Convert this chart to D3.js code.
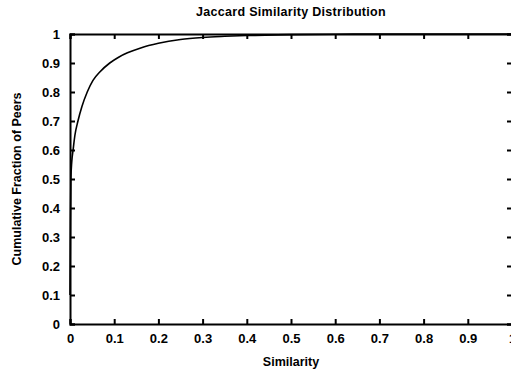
<!DOCTYPE html>
<html>
<head>
<meta charset="utf-8">
<script src="https://cdn.jsdelivr.net/npm/d3@7"></script>
<style>
  body { margin: 0; background: #fff; }
  svg { display: block; font-family: 'Liberation Sans', Arial, sans-serif; font-weight: bold; }
</style>
</head>
<body>
<svg class="cdf_chart" width="511" height="373"></svg>
<script>
const chart = d3.select('.cdf_chart');

const margin = { left: 70, top: 34, right: -1, bottom: 49 };
const chartWidth = +chart.attr('width') - margin.left - margin.right;
const chartHeight = +chart.attr('height') - margin.top - margin.bottom;

const title = 'Jaccard Similarity Distribution';
const xAxisLabel = 'Similarity';
const yAxisLabel = 'Cumulative Fraction of Peers';

const similarity = [0, 0.001, 0.002, 0.004, 0.007, 0.011, 0.018, 0.027, 0.039, 0.052, 0.068, 0.09, 0.11, 0.13, 0.16, 0.2, 0.25, 0.3, 0.35, 0.4, 0.5, 0.6, 0.7, 0.8, 0.9, 1.0];
const fraction = [0.1, 0.35, 0.5, 0.56, 0.6, 0.65, 0.7, 0.75, 0.8, 0.84, 0.87, 0.9, 0.92, 0.935, 0.952, 0.968, 0.981, 0.988, 0.992, 0.995, 0.998, 0.999, 1, 1, 1, 1];
const xTicks = [0, 0.1, 0.2, 0.3, 0.4, 0.5, 0.6, 0.7, 0.8, 0.9, 1];
const yTicks = [0, 0.1, 0.2, 0.3, 0.4, 0.5, 0.6, 0.7, 0.8, 0.9, 1];

const data = similarity.map((s, i) => ({ s, f: fraction[i] }));

const x = d3.scaleLinear().domain([0, 1]).range([0, chartWidth]);
const y = d3.scaleLinear().domain([0, 1]).range([chartHeight, 0]);

const fmt = d => d === 0 || d === 1 ? String(d) : d3.format('.1f')(d);

const g = chart.append('g')
    .attr('transform', `translate(${margin.left} ${margin.top})`);

// inner ticks on all four sides
const axes = [
    [d3.axisBottom(x).tickValues(xTicks).tickSize(-5).tickPadding(10).tickFormat(fmt), `translate(0, ${chartHeight})`],
    [d3.axisLeft(y).tickValues(yTicks).tickSize(-5).tickPadding(10).tickFormat(fmt), null],
    [d3.axisTop(x).tickValues(xTicks).tickSize(-5).tickFormat(''), null],
    [d3.axisRight(y).tickValues(yTicks).tickSize(-5).tickFormat(''), `translate(${chartWidth}, 0)`]
];

axes.forEach(([axis, tr]) => {
    const ag = g.append('g').call(axis);
    if (tr) ag.attr('transform', tr);
    ag.select('.domain').attr('stroke-width', 2).attr('stroke', '#000');
    ag.selectAll('.tick line').attr('stroke-width', 2).attr('stroke', '#000');
    ag.selectAll('.tick text')
        .attr('fill', '#000')
        .attr('font-size', 13)
        .attr('font-family', "'Liberation Sans', Arial, sans-serif")
        .attr('font-weight', 'bold');
});

const line = d3.line()
    .x(d => x(d.s))
    .y(d => y(d.f))
    .curve(d3.curveMonotoneX);

g.append('path')
    .attr('fill', 'none')
    .attr('stroke', '#000')
    .attr('stroke-width', 1.6)
    .attr('d', line(data));

chart.append('text')
    .attr('x', margin.left + 221)
    .attr('y', 16)
    .attr('text-anchor', 'middle')
    .attr('font-size', 12.5)
    .attr('letter-spacing', 0.3)
    .text(title);

chart.append('text')
    .attr('x', margin.left + 221)
    .attr('y', 366)
    .attr('text-anchor', 'middle')
    .attr('font-size', 12.5)
    .text(xAxisLabel);

chart.append('text')
    .attr('transform', `translate(21, ${margin.top + chartHeight / 2}) rotate(-90)`)
    .attr('text-anchor', 'middle')
    .attr('font-size', 12.5)
    .text(yAxisLabel);
</script>
</body>
</html>
